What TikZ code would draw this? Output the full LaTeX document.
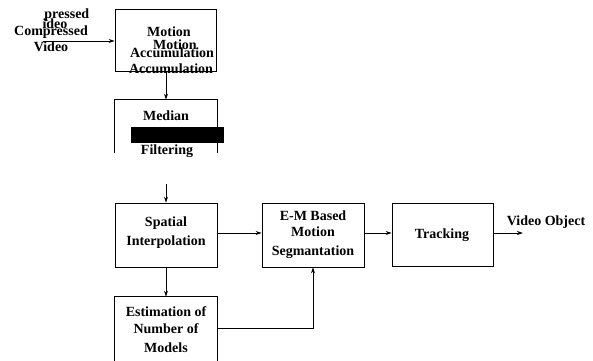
\documentclass[tikz,border=0pt]{standalone}
\usepackage{fontspec}
\setmainfont{Liberation Serif}
\usetikzlibrary{arrows.meta}
\begin{document}
\begin{tikzpicture}[x=1pt,y=-1pt,
  line width=0.8pt,
  blk/.style={draw, minimum width=101pt, minimum height=63pt, inner sep=0pt, align=center},
  hollow/.style={minimum width=102pt, inner sep=0pt},
  btxt/.style={inner sep=0pt, align=center, font=\fontsize{14}{19}\selectfont\bfseries},
  flow/.style={-{Stealth[length=6pt,width=4pt]}},
  ]
\useasboundingbox (0,0) rectangle (593,360);
\begin{scope}
\clip (0,0) rectangle (593,360);

% boxes
\node[blk, minimum height=62pt] (acc) at (165.5,40) {};
\node[hollow, minimum height=53pt] (med) at (166,126.5) {};
\draw (med.south west) -- (med.north west) -- (med.north east) -- (med.south east);
\node[blk, minimum width=102pt, minimum height=64pt] (spat) at (166,235) {};
\node[blk, minimum width=102pt, minimum height=64pt] (em) at (313,235) {};
\node[blk, minimum height=63pt] (trk) at (442.5,234.5) {};
\node[hollow, minimum height=70pt] (est) at (166,332) {};
\draw (est.south west) -- (est.north west) -- (est.north east) -- (est.south east);

% box texts
\node[btxt] (accA) at (169,32) {Motion};
\node[btxt] (accB) at (172,53) {Accumulation};
\node[btxt] (accC) at (175,45) {Motion};
\node[btxt] (accD) at (171,69) {Accumulation};
\node[btxt] (medA) at (166,116) {Median};
\fill (131,127) rectangle (224,143);
\node[btxt] (medB) at (167,151) {Filtering};
\node[btxt] (spatT) at (166,233) {Spatial\\Interpolation};
\node[btxt] (emA) at (313,216) {E-M Based};
\node[btxt] (emB) at (313,243) {Motion\\Segmantation};
\node[btxt] (trkT) at (442,235) {Tracking};
\node[btxt] (estA) at (166,312) {Estimation of};
\node[btxt] (estB) at (166,338) {Number of\\Models};

% input and output labels
\node[btxt, anchor=west] (inA) at (44,15) {pressed};
\node[btxt] (inB) at (55,24) {ideo};
\node[btxt] (inC) at (51,32) {Compressed};
\node[btxt] (inD) at (51,47) {Video};
\node[btxt] (outT) at (546,222) {Video Object};

% connectors
\coordinate (inS) at (43,41);
\coordinate (medOut) at (166,184);
\coordinate (outE) at (523,233);
\draw[flow] (inS) -- (inS -| acc.west);
\draw[flow] (acc.south -| med.north) -- (med.north);
\draw[flow] (medOut) -- (spat.north);
\draw[flow] (spat.east |- 0,233) -- (em.west |- 0,233);
\draw[flow] (em.east |- 0,233) -- (trk.west |- 0,233);
\draw[flow] (trk.east |- outE) -- (outE);
\draw[flow] (spat.south) -- (est.north);
\draw[flow] (est.east |- 0,328) -| (em.south);
\end{scope}
\end{tikzpicture}
\end{document}
